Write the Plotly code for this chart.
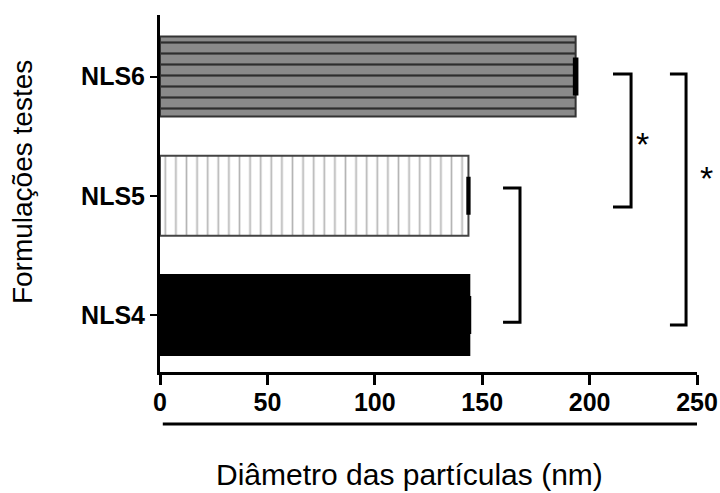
import plotly.graph_objects as go

# ---- data ----
formulations = ["NLS4", "NLS5", "NLS6"]
diameter_nm = [144.0, 143.6, 193.5]
diameter_err = [0.2, 0.3, 0.6]
x_tick_values = [0, 50, 100, 150, 200, 250]
x_title = "Diâmetro das partículas (nm)"
y_title = "Formulações testes"
# significance comparisons: (lower group index, upper group index, label)
comparisons = [(0, 1, ""), (1, 2, "*"), (0, 2, "*")]

FONT = "Liberation Sans, Arial, sans-serif"

bar_styles = [
    dict(color="#000000", line="#000000", shape="", size=10, solidity=0.2, fg="#000000"),
    dict(color="#ffffff", line="#444444", shape="|", size=10.6, solidity=0.16, fg="#b5b5b5"),
    dict(color="#8a8a8a", line="#333333", shape="-", size=11, solidity=0.2, fg="#2e2e2e"),
]

fig = go.Figure()
for name, val, err, st in zip(formulations, diameter_nm, diameter_err, bar_styles):
    marker = dict(color=st["color"], line=dict(color=st["line"], width=2))
    if st["shape"]:
        marker["pattern"] = dict(shape=st["shape"], size=st["size"],
                                 solidity=st["solidity"], fgcolor=st["fg"],
                                 bgcolor=st["color"], fillmode="replace")
    fig.add_trace(go.Bar(
        y=[name], x=[val], orientation="h", width=0.67, name=name,
        marker=marker,
        error_x=dict(type="data", array=[err], visible=True,
                     color="#000000", thickness=3, width=19),
        showlegend=False,
    ))

# brackets (x in data units, y in category index units)
bracket_geom = [
    dict(x0=159.7, x1=167.6, yb=-0.06, yt=1.065, sx=None, sy=None),
    dict(x0=210.9, x1=219.3, yb=0.906, yt=2.021, sx=0.915, sy=1.435),
    dict(x0=237.4, x1=244.9, yb=-0.084, yt=2.021, sx=1.034, sy=1.145),
]
for (lo, hi, lab), g in zip(comparisons, bracket_geom):
    path = (f"M {g['x0']},{g['yt']} L {g['x1']},{g['yt']} "
            f"L {g['x1']},{g['yb']} L {g['x0']},{g['yb']}")
    fig.add_shape(type="path", path=path, xref="x", yref="y",
                  line=dict(color="black", width=3))
    if lab:
        fig.add_annotation(x=g["sx"], y=g["sy"], xref="paper", yref="y",
                           text=lab, showarrow=False,
                           font=dict(family=FONT, size=34, color="black"))

# second line under the x tick labels
fig.add_shape(type="line", xref="x", yref="paper",
              x0=x_tick_values[0] + 1.3, x1=x_tick_values[-1], y0=-0.1457, y1=-0.1457,
              line=dict(color="black", width=3))

# axis titles as annotations
fig.add_annotation(text=x_title, xref="paper", yref="paper", x=0.4655, y=-0.286,
                   xanchor="center", yanchor="middle", showarrow=False,
                   font=dict(family=FONT, size=30, color="black"))
fig.add_annotation(text=y_title, xref="paper", yref="paper", x=-0.257, y=0.532,
                   xanchor="center", yanchor="middle", showarrow=False, textangle=-90,
                   font=dict(family=FONT, size=28, color="black"))

fig.update_layout(
    width=720, height=493,
    margin=dict(l=160, r=23, t=15, b=121, pad=0, autoexpand=False),
    paper_bgcolor="white", plot_bgcolor="white",
    barmode="overlay",
    font=dict(family=FONT, color="black"),
    xaxis=dict(range=[0, 250], tickvals=x_tick_values, ticks="outside",
               ticklen=10, tickwidth=3, tickcolor="black",
               showline=True, linewidth=3, linecolor="black",
               showgrid=False, zeroline=False, automargin=False,
               ticklabelstandoff=-4,
               tickfont=dict(family=FONT, size=25, color="black", weight="bold")),
    yaxis=dict(type="category", categoryorder="array", categoryarray=formulations,
               range=[-0.478, 2.516], ticks="outside", ticklen=7, tickwidth=2,
               tickcolor="black", showline=True, linewidth=3, linecolor="black",
               showgrid=False, zeroline=False, automargin=False,
               tickfont=dict(family=FONT, size=25, color="black", weight="bold")),
)

fig.write_html("out.html")
